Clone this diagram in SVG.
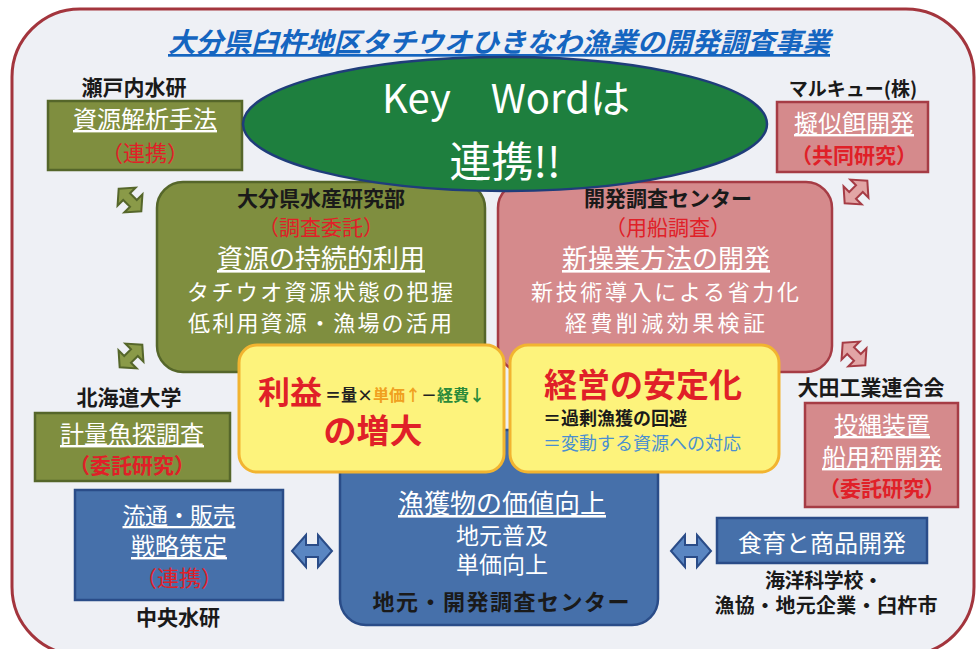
<svg xmlns="http://www.w3.org/2000/svg" width="980" height="649" viewBox="0 0 980 649">
<style>
text{font-family:"Noto Sans CJK JP","Noto Sans",sans-serif;text-anchor:middle}
.lab{font-weight:700;fill:#1a1a1a}
.w{fill:#ffffff}
.u{text-decoration:underline}
.red{fill:#e02028}
.st{text-anchor:start}
.g{fill:#7f8e3f;stroke:#55662a;stroke-width:2.5}
.p{fill:#d58a8c;stroke:#a63c45;stroke-width:2.5}
.b{fill:#4670aa;stroke:#2a4c88;stroke-width:2.5}
.y{fill:#fdf37c;stroke:#f2b430;stroke-width:3}
</style>
<defs>
<path id="dar" d="M-20,0 L-6,-16 L-6,-6 L6,-6 L6,-16 L20,0 L6,16 L6,6 L-6,6 L-6,16 Z"/>
</defs>
<rect width="980" height="649" fill="#ffffff"/>
<rect id="frame" x="12" y="9" width="962" height="646" rx="68" fill="#eef0f5" stroke="#a3353d" stroke-width="3"/>
<text x="499" y="52" font-size="27" font-weight="700" font-style="italic" fill="#1565c0" class="u" textLength="662" lengthAdjust="spacingAndGlyphs">大分県臼杵地区タチウオひきなわ漁業の開発調査事業</text>

<g id="setouchi">
<text class="lab" x="134" y="95" font-size="21">瀬戸内水研</text>
<rect class="g" x="48" y="101" width="194" height="69"/>
<text class="w u" x="145" y="128" font-size="24">資源解析手法</text>
<text class="red" x="145" y="161" font-size="22">（連携）</text>
</g>

<g id="marukyu">
<text class="lab" x="853" y="96" font-size="19">マルキュー(株)</text>
<rect class="p" x="777" y="102" width="151" height="70"/>
<text class="w u" x="854" y="132" font-size="24">擬似餌開発</text>
<text class="red" x="854" y="163" font-size="21" font-weight="700">（共同研究）</text>
</g>

<g id="hokkaido">
<text class="lab" x="129" y="405" font-size="21">北海道大学</text>
<rect class="g" x="35" y="413" width="195" height="68"/>
<text class="w u" x="132" y="443" font-size="24">計量魚探調査</text>
<text class="red" x="132" y="473" font-size="21" font-weight="700">（委託研究）</text>
</g>

<g id="ota">
<text class="lab" x="871" y="395" font-size="21">大田工業連合会</text>
<rect class="p" x="805" y="403" width="153" height="104"/>
<text class="w u" x="882" y="434" font-size="24">投縄装置</text>
<text class="w u" x="882" y="466" font-size="24">船用秤開発</text>
<text class="red" x="882" y="496" font-size="21" font-weight="700">（委託研究）</text>
</g>

<g id="chuo">
<rect class="b" x="75" y="490" width="208" height="110"/>
<text class="w u" x="179" y="524" font-size="23" textLength="113">流通・販売</text>
<text class="w u" x="179" y="555" font-size="24">戦略策定</text>
<text class="red" x="179" y="586" font-size="22">（連携）</text>
<text class="lab" x="178" y="625" font-size="21">中央水研</text>
</g>

<g id="shokuiku">
<rect class="b" x="717" y="518" width="210" height="45"/>
<text class="w" x="822" y="552" font-size="24">食育と商品開発</text>
<text class="lab" x="824" y="588" font-size="20" textLength="118">海洋科学校・</text>
<text class="lab" x="826" y="613" font-size="20" textLength="223">漁協・地元企業・臼杵市</text>
</g>

<g id="suisan">
<rect class="g" x="157" y="182" width="328" height="190" rx="26"/>
<text class="lab" x="321" y="206" font-size="21">大分県水産研究部</text>
<text class="red" x="321" y="235" font-size="21">（調査委託）</text>
<text class="w u" x="321" y="268" font-size="26">資源の持続的利用</text>
<text class="w" x="320" y="300" font-size="22" textLength="266">タチウオ資源状態の把握</text>
<text class="w" x="320" y="331" font-size="22" textLength="264">低利用資源・漁場の活用</text>
</g>

<g id="kaihatsu">
<rect class="p" x="498" y="182" width="334" height="190" rx="26"/>
<text class="lab" x="668" y="206" font-size="21">開発調査センター</text>
<text class="red" x="668" y="235" font-size="21">（用船調査）</text>
<text class="w u" x="666" y="268" font-size="26">新操業方法の開発</text>
<text class="w" x="665" y="300" font-size="22" textLength="268">新技術導入による省力化</text>
<text class="w" x="665" y="331" font-size="22" textLength="200">経費削減効果検証</text>
</g>

<g id="jimoto">
<rect class="b" x="340" y="430" width="318" height="195" rx="26"/>
<text class="w u" x="502" y="513" font-size="26">漁獲物の価値向上</text>
<text class="w" x="502" y="544" font-size="23">地元普及</text>
<text class="w" x="502" y="573" font-size="23">単価向上</text>
<text class="lab" x="501" y="610" font-size="22" textLength="257">地元・開発調査センター</text>
</g>

<g id="rieki">
<rect class="y" x="239" y="345" width="265" height="127" rx="18"/>
<text x="290" y="404" font-size="32" font-weight="700" fill="#e02028">利益</text>
<text class="st" x="325" y="401" font-size="16" font-weight="700" fill="#222">＝量×</text>
<text class="st" x="373" y="401" font-size="16" font-weight="700" fill="#f0a020">単価↑</text>
<text class="st" x="421" y="401" font-size="16" font-weight="700" fill="#222">－</text>
<text class="st" x="437" y="401" font-size="16" font-weight="700" fill="#2a8a3a">経費↓</text>
<text x="373" y="443" font-size="33" font-weight="700" fill="#e02028">の増大</text>
</g>

<g id="antei">
<rect class="y" x="510" y="345" width="269" height="127" rx="18"/>
<text x="643" y="397" font-size="33" font-weight="700" fill="#e02028">経営の安定化</text>
<text class="st" x="543" y="425" font-size="18" font-weight="700" fill="#1a1a1a">＝過剰漁獲の回避</text>
<text class="st" x="543" y="450" font-size="18" fill="#4a8fd0">＝変動する資源への対応</text>
</g>

<g id="keyword">
<ellipse cx="505" cy="124" rx="262" ry="67" fill="#1e7f3e" stroke="#1f3d7a" stroke-width="2.5"/>
<text class="w" x="506" y="113" font-size="40">Key　Wordは</text>
<text class="w" x="505" y="177" font-size="42">連携!!</text>
</g>

<g id="connectors">
<use href="#dar" transform="translate(130,200) rotate(45) scale(0.8)" fill="#8a9a48" stroke="#55662a" stroke-width="2.5"/>
<use href="#dar" transform="translate(131,356) rotate(-45) scale(0.8)" fill="#8a9a48" stroke="#55662a" stroke-width="2.5"/>
<use href="#dar" transform="translate(856,192) rotate(-45) scale(0.8)" fill="#e2a5a5" stroke="#a63c45" stroke-width="2.5"/>
<use href="#dar" transform="translate(854,354) rotate(45) scale(0.8)" fill="#e2a5a5" stroke="#a63c45" stroke-width="2.5"/>
<use href="#dar" transform="translate(312,551)" fill="#5a86c2" stroke="#2a4c88" stroke-width="2"/>
<use href="#dar" transform="translate(691,551)" fill="#5a86c2" stroke="#2a4c88" stroke-width="2"/>
</g>
</svg>
